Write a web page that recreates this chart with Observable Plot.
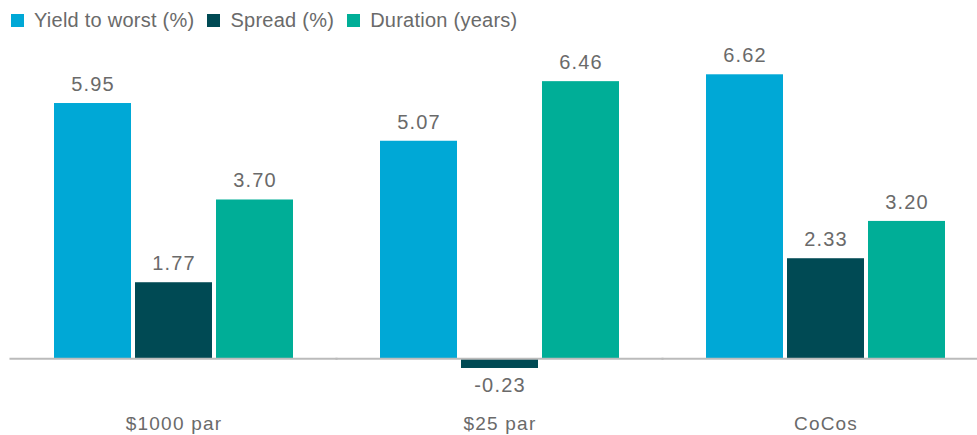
<!DOCTYPE html>
<html>
<head>
<meta charset="utf-8">
<script src="https://cdn.jsdelivr.net/npm/d3@7"></script>
<script src="https://cdn.jsdelivr.net/npm/@observablehq/plot@0.6"></script>
<style>
  body { margin: 0; background: #fff; font-family: "Liberation Sans", Arial, sans-serif; }
  #legend { height: 40px; display: flex; align-items: center; padding-left: 11px; font-size: 20px; letter-spacing: 0.25px; color: #6a6a6a; }
  .item { display: flex; align-items: center; margin-right: 13px; }
  .sw { width: 13px; height: 13px; margin-right: 10px; }
</style>
</head>
<body>
<div id="legend"></div>
<div id="chart"></div>
<script>
const categories = ["$1000 par", "$25 par", "CoCos"];
const series = ["Yield to worst (%)", "Spread (%)", "Duration (years)"];
const yieldToWorst = [5.95, 5.07, 6.62];
const spread = [1.77, -0.23, 2.33];
const duration = [3.70, 6.46, 3.20];
const colors = ["#00a8d6", "#004a54", "#00ae97"];

const valuesBySeries = [yieldToWorst, spread, duration];
const data = categories.flatMap((c, i) =>
  series.map((s, j) => ({category: c, series: s, value: valuesBySeries[j][i]}))
);

const legend = document.getElementById("legend");
series.forEach((s, j) => {
  const it = document.createElement("div");
  it.className = "item";
  it.innerHTML = `<span class="sw" style="background:${colors[j]}"></span><span>${s}</span>`;
  legend.appendChild(it);
});

const fmt = d => d.value.toFixed(2);

const W = 977, ML = 10, MR = 0;
const padIn = 0.267, padOut = 0.1165;
const step = (W - ML - MR) / (categories.length - padIn + 2 * padOut);
const ext = step * padIn / 2 + 1;

const chart = Plot.plot({
  width: W,
  height: 395,
  marginLeft: ML,
  marginRight: MR,
  marginTop: 18,
  marginBottom: 34,
  style: {fontFamily: "Liberation Sans, Arial, sans-serif", fontSize: "19px", letterSpacing: "1.2px", color: "#6a6a6a", background: "white"},
  fx: {domain: categories, paddingInner: padIn, paddingOuter: padOut, align: 0.58, label: null, axis: "bottom", tickSize: 0, tickPadding: 15},
  x: {domain: series, paddingInner: 0.055, paddingOuter: 0, axis: null},
  y: {domain: [-1, 7], axis: null},
  color: {domain: series, range: colors},
  marks: [
    Plot.barY(data, {fx: "category", x: "series", y: "value", fill: "series"}),
    Plot.ruleY([0], {stroke: "#bbb", strokeWidth: 2, insetLeft: -ext, insetRight: -ext}),
    Plot.text(data.filter(d => d.value >= 0), {fx: "category", x: "series", y: "value", text: fmt, dy: -19, fill: "#6a6a6a", fontSize: 20}),
    Plot.text(data.filter(d => d.value < 0), {fx: "category", x: "series", y: "value", text: fmt, dy: 17, fill: "#6a6a6a", fontSize: 20})
  ]
});
document.getElementById("chart").appendChild(chart);
</script>
</body>
</html>
